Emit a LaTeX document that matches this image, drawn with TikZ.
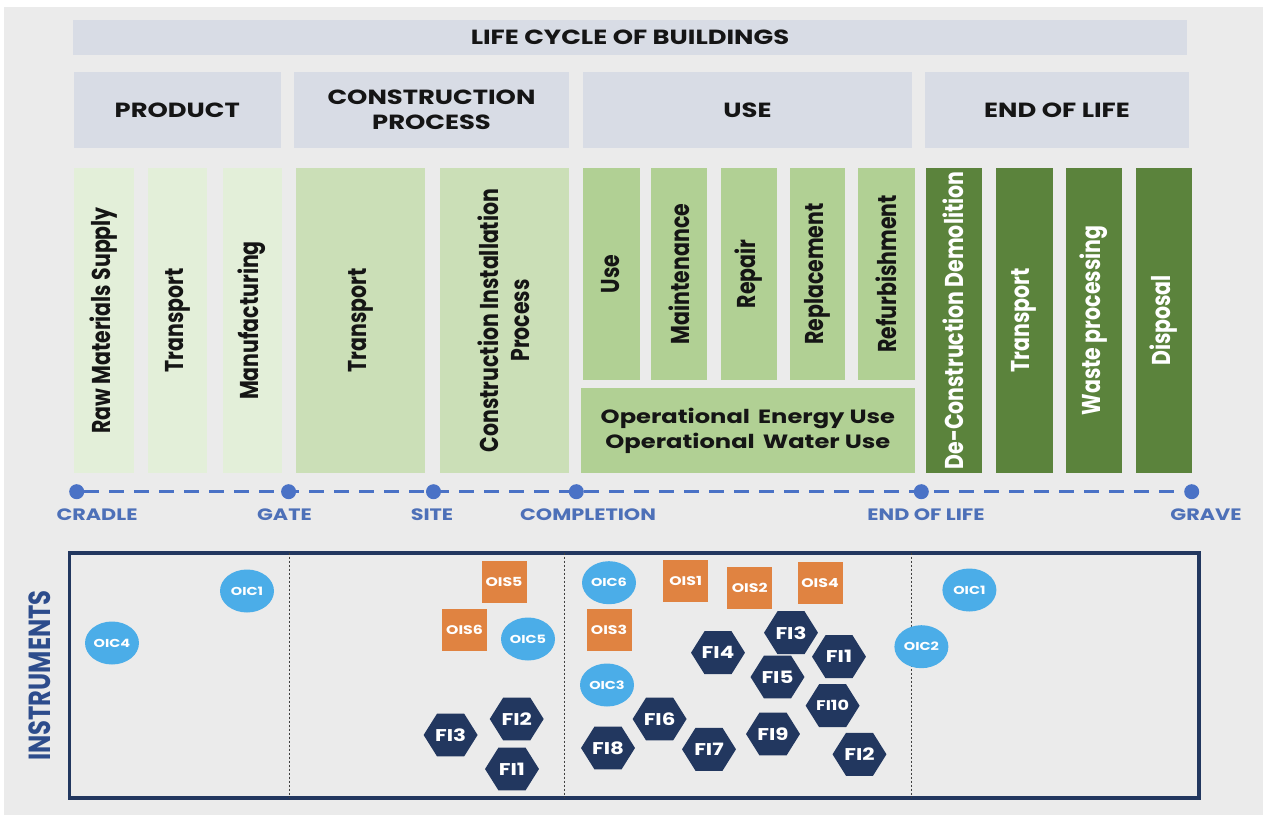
\documentclass[tikz,border=0pt]{standalone}
\usepackage{fontspec}
\setmainfont{Poppins}
\newfontfamily\hf[FakeStretch=1.26]{Poppins}
\newfontfamily\hxf[FakeStretch=1.158]{Poppins}
\newfontfamily\vf[FakeStretch=0.794]{Poppins}
\usetikzlibrary{shapes.geometric}
\definecolor{bgc}{HTML}{EBEBEB}
\definecolor{hdrc}{HTML}{D8DCE5}
\definecolor{prodc}{HTML}{E3EFD9}
\definecolor{consc}{HTML}{CBDFB7}
\definecolor{usec}{HTML}{B1D094}
\definecolor{eolc}{HTML}{5B833C}
\definecolor{tlc}{HTML}{4A72C6}
\definecolor{tltext}{HTML}{4D70B8}
\definecolor{navyc}{HTML}{22375F}
\definecolor{cyanc}{HTML}{4BADE8}
\definecolor{orangec}{HTML}{E08341}
\definecolor{instrc}{HTML}{2D4C8C}
\definecolor{txtc}{HTML}{151515}
\begin{document}
\begin{tikzpicture}[x=1pt,y=-1pt,
  hdr/.style={fill=hdrc, inner sep=0, text=txtc, align=center, font=\hf\bfseries\fontsize{20.5}{25}\selectfont},
  vbox/.style={rotate=90, inner sep=0, align=center, text=txtc, font=\vf\bfseries\fontsize{25.8}{31}\selectfont},
  hbox/.style={inner sep=0, align=center, text=txtc, font=\hf\bfseries\fontsize{19.2}{25}\selectfont},
  dot/.style={circle, fill=tlc, minimum size=15, inner sep=0},
  tlab/.style={text=tltext, inner sep=0, font=\hf\bfseries\fontsize{16.5}{20}\selectfont},
  tline/.style={draw=tlc, line width=3.2, dash pattern=on 15pt off 10pt},
  divider/.style={draw=black!75, line width=0.9, dash pattern=on 2.5pt off 1.5pt},
  oic/.style={ellipse, fill=cyanc, minimum width=54, minimum height=43, inner sep=0, text=white, font=\hf\bfseries\fontsize{11.5}{12}\selectfont},
  ois/.style={rectangle, fill=orangec, minimum width=45, minimum height=42, inner sep=0, text=white, font=\hf\bfseries\fontsize{12.5}{13}\selectfont},
  fi/.style={regular polygon, regular polygon sides=6, minimum size=49.6, xscale=1.088, transform shape, fill=navyc, inner sep=0, text=white, font=\hxf\bfseries\fontsize{17}{18}\selectfont},
  fis/.style={fi, font=\hxf\bfseries\fontsize{14}{15}\selectfont}
]
\useasboundingbox (0,0) rectangle (1263,816);
\fill[white] (0,0) rectangle (1263,816);
\fill[bgc] (4,7) rectangle (1263,815);

% headers
\node[hdr, minimum width=1114, minimum height=35] (title) at (630,37.5) {LIFE CYCLE OF BUILDINGS};
\node[hdr, minimum width=207.5, minimum height=76] (hprod) at (177.25,110) {PRODUCT};
\node[hdr, minimum width=275, minimum height=76] (hcons) at (431.5,110) {CONSTRUCTION\\PROCESS};
\node[hdr, minimum width=329, minimum height=76] (huse) at (747.5,110) {USE};
\node[hdr, minimum width=264, minimum height=76] (heol) at (1057,110) {END OF LIFE};

% product stage
\node[vbox, fill=prodc, minimum width=305, minimum height=60.5] (raw) at (103.75,320.5) {Raw Materials Supply};
\node[vbox, fill=prodc, minimum width=305, minimum height=59] (ptr) at (177.5,320.5) {Transport};
\node[vbox, fill=prodc, minimum width=305, minimum height=59] (man) at (252,320.5) {Manufacturing};
% construction stage
\node[vbox, fill=consc, minimum width=305, minimum height=129] (ctr) at (360.5,320.5) {Transport};
\node[vbox, fill=consc, minimum width=305, minimum height=129] (cip) at (504.1,320.5) {Construction Installation\\Process};
% use stage
\node[vbox, fill=usec, minimum width=212, minimum height=57] (u1) at (611,274) {Use};
\node[vbox, fill=usec, minimum width=212, minimum height=56.5] (u2) at (679.2,274) {Maintenance};
\node[vbox, fill=usec, minimum width=212, minimum height=56] (u3) at (749,274) {Repair};
\node[vbox, fill=usec, minimum width=212, minimum height=55.4] (u4) at (817.3,274) {Replacement};
\node[vbox, fill=usec, minimum width=212, minimum height=57] (u5) at (886.2,274) {Refurbishment};
\node[hbox, fill=usec, minimum width=333.7, minimum height=85] (oper) at (747.9,430.5) {Operational\hspace{0.15em} Energy Use\\Operational\hspace{0.15em} Water Use};
% end of life stage
\node[vbox, fill=eolc, text=white, minimum width=305, minimum height=56] (e1) at (953.75,320.5) {De-Construction Demolition};
\node[vbox, fill=eolc, text=white, minimum width=305, minimum height=57] (e2) at (1024,320.5) {Transport};
\node[vbox, fill=eolc, text=white, minimum width=305, minimum height=56.6] (e3) at (1094.1,320.5) {Waste processing};
\node[vbox, fill=eolc, text=white, minimum width=305, minimum height=56.6] (e4) at (1163.9,320.5) {Disposal};

% timeline
\node[dot] (cradle) at (76.7,491.7) {};
\node[dot] (gate) at (288.6,491.7) {};
\node[dot] (site) at (433.5,491.7) {};
\node[dot] (compl) at (576.3,491.7) {};
\node[dot] (eol) at (921.3,491.7) {};
\node[dot] (grave) at (1191.7,491.7) {};
\draw[tline] (cradle) -- (grave);
\node[tlab] (lcradle) at (97,515) {CRADLE};
\node[tlab] (lgate) at (284.5,515) {GATE};
\node[tlab] (lsite) at (432,515) {SITE};
\node[tlab] (lcompl) at (588,515) {COMPLETION};
\node[tlab] (leol) at (926,515) {END OF LIFE};
\node[tlab] (lgrave) at (1206,515) {GRAVE};

% instruments
\node[draw=navyc, line width=3.8, minimum width=1129.6, minimum height=245.3, inner sep=0] (instr) at (634.2,675.35) {};
\coordinate (d1t) at (289.8,552.7); \coordinate (d1b) at (289.8,798);
\coordinate (d2t) at (564.5,552.7); \coordinate (d2b) at (564.5,798);
\coordinate (d3t) at (911,552.7); \coordinate (d3b) at (911,798);
\draw[divider] (d1t) -- (d1b);
\draw[divider] (d2t) -- (d2b);
\draw[divider] (d3t) -- (d3b);
\node[rotate=90, text=instrc, inner sep=0, font=\vf\bfseries\fontsize{30.5}{32}\selectfont] (ilabel) at (40,675.5) {INSTRUMENTS};

\node[oic] (oic1a) at (247,591) {OIC1};
\node[oic] (oic4) at (112,643) {OIC4};
\node[oic] (oic5) at (528,639) {OIC5};
\node[oic] (oic6) at (609,582.7) {OIC6};
\node[oic] (oic3) at (607,685) {OIC3};
\node[oic] (oic1b) at (969.4,590) {OIC1};
\node[oic] (oic2) at (921.4,646.7) {OIC2};

\node[ois] (ois5) at (504,582) {OIS5};
\node[ois] (ois6) at (464.5,630) {OIS6};
\node[ois] (ois3) at (609,630) {OIS3};
\node[ois] (ois1) at (685.6,581) {OIS1};
\node[ois] (ois2) at (749.7,588) {OIS2};
\node[ois] (ois4) at (820,583) {OIS4};

\node[fi] (fi2a) at (516.7,719) {FI2};
\node[fi] (fi3a) at (450.6,735) {FI3};
\node[fi] (fi1a) at (512,769) {FI1};
\node[fi] (fi8) at (608,748) {FI8};
\node[fi] (fi3b) at (791,632.7) {FI3};
\node[fi] (fi4) at (718,652.7) {FI4};
\node[fi] (fi1b) at (839,656.7) {FI1};
\node[fi] (fi5) at (777.5,677) {FI5};
\node[fis] (fi10) at (832.6,705.7) {FI10};
\node[fi] (fi6) at (659.6,719) {FI6};
\node[fi] (fi9) at (773,734) {FI9};
\node[fi] (fi7) at (709,749.3) {FI7};
\node[fi] (fi2b) at (859.5,754.3) {FI2};
\end{tikzpicture}
\end{document}
